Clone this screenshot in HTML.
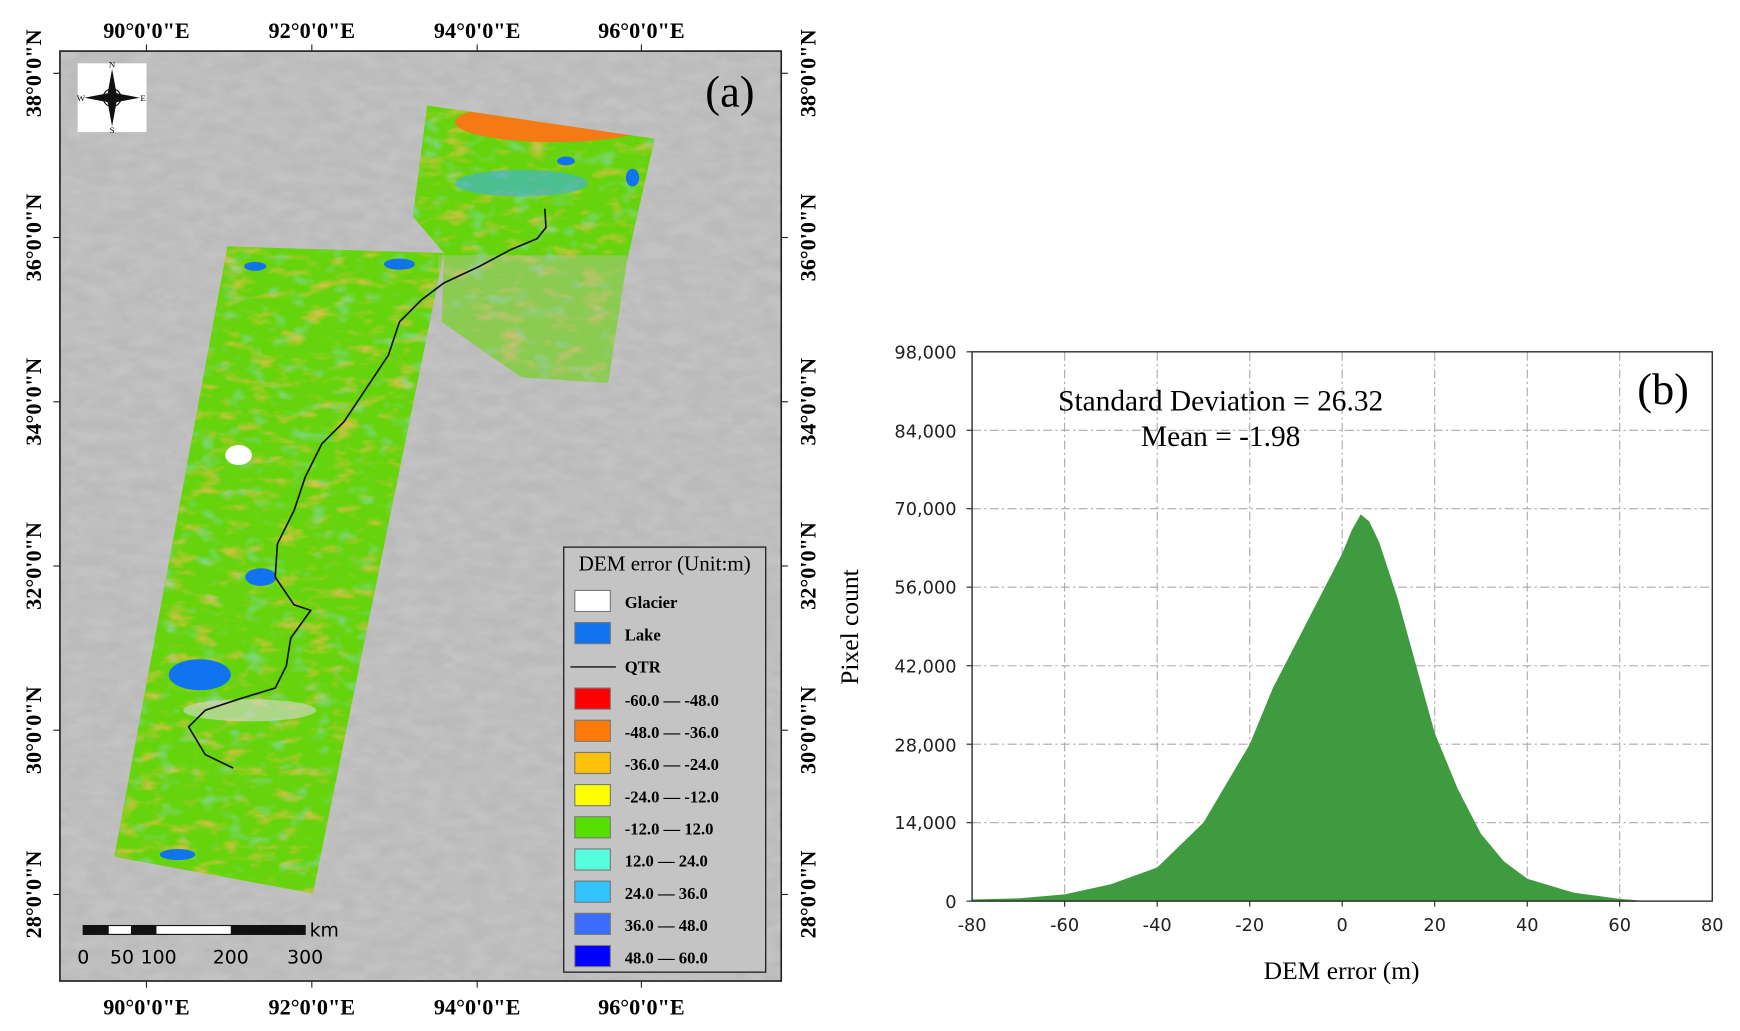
<!DOCTYPE html>
<html><head><meta charset="utf-8"><style>
html,body{margin:0;padding:0;background:#fff;}
svg{display:block;}
.t{font-family:"Liberation Serif",serif;}
.s{font-family:"DejaVu Sans","Liberation Sans",sans-serif;}
</style></head><body>
<svg width="1740" height="1031" viewBox="0 0 1568 929" xmlns="http://www.w3.org/2000/svg">
<defs>
<filter id="tex" x="0" y="0" width="100%" height="100%">
<feTurbulence type="fractalNoise" baseFrequency="0.05 0.09" numOctaves="3" seed="4"/>
<feColorMatrix type="matrix" values="0 0 0 0 0.55  0 0 0 0 0.55  0 0 0 0 0.55  1.2 1.2 1.2 0 -1.3"/>
</filter>
<filter id="gtex" x="0" y="0" width="100%" height="100%">
<feTurbulence type="fractalNoise" baseFrequency="0.04 0.1" numOctaves="3" seed="9"/>
<feColorMatrix type="matrix" values="0 0 0 0 0.95  0 0 0 0 0.5  0 0 0 0 0.1  2.6 0 0 0 -1.35"/>
</filter>
<filter id="btex" x="0" y="0" width="100%" height="100%">
<feTurbulence type="fractalNoise" baseFrequency="0.05 0.08" numOctaves="2" seed="21"/>
<feColorMatrix type="matrix" values="0 0 0 0 0.3  0 0 0 0 0.7  0 0 0 0 0.95  0 0 2.6 0 -1.45"/>
</filter>
<clipPath id="dc"><path d="M205,222 L400,228 L282,805 L103,772 Z M385,95 L590,125 L565,235 L548,345 L470,340 L398,290 L400,228 L372,195 Z"/></clipPath>
</defs>
<rect x="54" y="46" width="650" height="838" fill="#bababa" stroke="#222" stroke-width="1.5"/>
<rect x="55" y="47" width="648" height="836" filter="url(#tex)" opacity="0.9"/>
<g clip-path="url(#dc)">
<rect x="90" y="90" width="520" height="730" fill="#66d40c"/>
<rect x="90" y="90" width="520" height="730" filter="url(#gtex)" opacity="0.8"/>
<rect x="90" y="90" width="520" height="730" filter="url(#btex)" opacity="0.6"/>
<ellipse cx="500" cy="110" rx="90" ry="18" fill="#f57a15"/>
<ellipse cx="470" cy="165" rx="60" ry="12" fill="#3ab0e8" opacity="0.6"/>
<rect x="395" y="230" width="170" height="115" fill="#b8c0a8" opacity="0.45"/>
<ellipse cx="180" cy="608" rx="28" ry="14" fill="#1273f0"/>
<ellipse cx="235" cy="520" rx="14" ry="8" fill="#1273f0"/>
<ellipse cx="160" cy="770" rx="16" ry="5" fill="#1273f0"/>
<ellipse cx="215" cy="410" rx="12" ry="9" fill="#fff"/>
<ellipse cx="360" cy="238" rx="14" ry="5" fill="#1273f0"/>
<ellipse cx="230" cy="240" rx="10" ry="4" fill="#1273f0"/>
<ellipse cx="510" cy="145" rx="8" ry="4" fill="#1273f0"/>
<ellipse cx="570" cy="160" rx="6" ry="8" fill="#1273f0"/>
<ellipse cx="225" cy="640" rx="60" ry="10" fill="#d8d8d8" opacity="0.6"/>
</g>
<polyline points="491,188 492,205 484,215 460,225 432,240 400,255 380,270 360,290 350,320 330,350 310,380 290,400 275,430 265,460 250,490 248,520 265,545 280,550 262,575 258,600 248,620 215,630 185,640 170,655 185,680 210,692" fill="none" stroke="#111" stroke-width="1.5"/>
<rect x="70" y="57" width="62" height="62" fill="#fff"/>
<path d="M101,62 L105,84 L101,88 L97,84 Z M101,114 L97,92 L101,88 L105,92 Z M76,88 L97,84 L101,88 L97,92 Z M126,88 L105,92 L101,88 L105,84 Z" fill="#111"/>
<circle cx="101" cy="88" r="8" fill="none" stroke="#111"/>
<text class="t" x="101" y="61" font-size="8" text-anchor="middle">N</text>
<text class="t" x="101" y="120" font-size="8" text-anchor="middle">S</text>
<text class="t" x="73" y="91" font-size="8" text-anchor="middle">W</text>
<text class="t" x="129" y="91" font-size="8" text-anchor="middle">E</text>
<text class="t" x="680" y="96" font-size="40" text-anchor="end">(a)</text>
<rect x="508" y="493" width="182" height="383" fill="#c4c4c4" stroke="#222" stroke-width="1.2"/>
<text class="t" x="599" y="514" font-size="19" text-anchor="middle">DEM error (Unit:m)</text>
<g class="t" font-size="15" font-weight="bold">
<rect x="518" y="532" width="32" height="19" fill="#fff" stroke="#777"/><text x="563" y="548">Glacier</text>
<rect x="518" y="561" width="32" height="19" fill="#1273f0" stroke="#777"/><text x="563" y="577">Lake</text>
<line x1="514" y1="601" x2="555" y2="601" stroke="#111" stroke-width="1.2"/><text x="563" y="606">QTR</text>
<rect x="518" y="620" width="32" height="19" fill="#ff0000" stroke="#777"/><text x="563" y="636">-60.0 — -48.0</text>
<rect x="518" y="649" width="32" height="19" fill="#ff7a0a" stroke="#777"/><text x="563" y="665">-48.0 — -36.0</text>
<rect x="518" y="678" width="32" height="19" fill="#ffc20a" stroke="#777"/><text x="563" y="694">-36.0 — -24.0</text>
<rect x="518" y="707" width="32" height="19" fill="#ffff00" stroke="#777"/><text x="563" y="723">-24.0 — -12.0</text>
<rect x="518" y="736" width="32" height="19" fill="#55e000" stroke="#777"/><text x="563" y="752">-12.0 — 12.0</text>
<rect x="518" y="765" width="32" height="19" fill="#55ffdd" stroke="#777"/><text x="563" y="781">12.0 — 24.0</text>
<rect x="518" y="794" width="32" height="19" fill="#33c4ff" stroke="#777"/><text x="563" y="810">24.0 — 36.0</text>
<rect x="518" y="823" width="32" height="19" fill="#3a6cff" stroke="#777"/><text x="563" y="839">36.0 — 48.0</text>
<rect x="518" y="852" width="32" height="19" fill="#0000ff" stroke="#777"/><text x="563" y="868">48.0 — 60.0</text>
</g>
<rect x="75" y="834" width="200" height="8" fill="#fff" stroke="#111"/>
<rect x="75" y="834" width="23" height="8" fill="#111"/><rect x="118" y="834" width="23" height="8" fill="#111"/><rect x="208" y="834" width="67" height="8" fill="#111"/>
<g class="s" font-size="17"><text x="279" y="844">km</text><text x="75" y="868" text-anchor="middle">0</text><text x="110" y="868" text-anchor="middle">50</text><text x="143" y="868" text-anchor="middle">100</text><text x="208" y="868" text-anchor="middle">200</text><text x="275" y="868" text-anchor="middle">300</text></g>
<g stroke="#222" stroke-width="1">
<line x1="132" y1="40" x2="132" y2="46"/><line x1="281" y1="40" x2="281" y2="46"/><line x1="430" y1="40" x2="430" y2="46"/><line x1="578" y1="40" x2="578" y2="46"/>
<line x1="132" y1="884" x2="132" y2="890"/><line x1="281" y1="884" x2="281" y2="890"/><line x1="430" y1="884" x2="430" y2="890"/><line x1="578" y1="884" x2="578" y2="890"/>
<line x1="48" y1="66" x2="54" y2="66"/><line x1="48" y1="214" x2="54" y2="214"/><line x1="48" y1="362" x2="54" y2="362"/><line x1="48" y1="510" x2="54" y2="510"/><line x1="48" y1="658" x2="54" y2="658"/><line x1="48" y1="806" x2="54" y2="806"/>
<line x1="704" y1="66" x2="710" y2="66"/><line x1="704" y1="214" x2="710" y2="214"/><line x1="704" y1="362" x2="710" y2="362"/><line x1="704" y1="510" x2="710" y2="510"/><line x1="704" y1="658" x2="710" y2="658"/><line x1="704" y1="806" x2="710" y2="806"/>
</g>
<g class="t" font-size="20" font-weight="bold" text-anchor="middle">
<text x="132" y="34">90°0'0"E</text><text x="281" y="34">92°0'0"E</text><text x="430" y="34">94°0'0"E</text><text x="578" y="34">96°0'0"E</text>
<text x="132" y="914">90°0'0"E</text><text x="281" y="914">92°0'0"E</text><text x="430" y="914">94°0'0"E</text><text x="578" y="914">96°0'0"E</text>
<text transform="translate(37,66) rotate(-90)">38°0'0"N</text><text transform="translate(37,214) rotate(-90)">36°0'0"N</text><text transform="translate(37,362) rotate(-90)">34°0'0"N</text><text transform="translate(37,510) rotate(-90)">32°0'0"N</text><text transform="translate(37,658) rotate(-90)">30°0'0"N</text><text transform="translate(37,806) rotate(-90)">28°0'0"N</text>
<text transform="translate(735,66) rotate(-90)">38°0'0"N</text><text transform="translate(735,214) rotate(-90)">36°0'0"N</text><text transform="translate(735,362) rotate(-90)">34°0'0"N</text><text transform="translate(735,510) rotate(-90)">32°0'0"N</text><text transform="translate(735,658) rotate(-90)">30°0'0"N</text><text transform="translate(735,806) rotate(-90)">28°0'0"N</text>
</g>
<g stroke="#aaa" stroke-width="1" stroke-dasharray="8,3,2,3">
<line x1="959.4" y1="317" x2="959.4" y2="812"/><line x1="1042.8" y1="317" x2="1042.8" y2="812"/><line x1="1126.2" y1="317" x2="1126.2" y2="812"/><line x1="1209.5" y1="317" x2="1209.5" y2="812"/><line x1="1292.9" y1="317" x2="1292.9" y2="812"/><line x1="1376.3" y1="317" x2="1376.3" y2="812"/><line x1="1459.6" y1="317" x2="1459.6" y2="812"/>
<line x1="876" y1="387.7" x2="1543" y2="387.7"/><line x1="876" y1="458.4" x2="1543" y2="458.4"/><line x1="876" y1="529.1" x2="1543" y2="529.1"/><line x1="876" y1="599.9" x2="1543" y2="599.9"/><line x1="876" y1="670.6" x2="1543" y2="670.6"/><line x1="876" y1="741.3" x2="1543" y2="741.3"/>
</g>
<path d="M876,812 L876,810.5 L917.7,809.5 L959.4,805.9 L1001,796.8 L1042.8,781.7 L1084.5,741.3 L1126.2,670.6 L1147,620.1 L1167.9,579.7 L1188.7,539.2 L1209.5,498.8 L1218,478 L1226.2,463.5 L1234,470 L1242.9,488.7 L1259.5,539.2 L1276.2,599.9 L1292.9,660.5 L1313.7,711 L1334.6,751.4 L1355,776 L1376.3,791.8 L1418,804.4 L1459.6,810 L1484.6,812 Z" fill="#3f9b3f"/>
<rect x="876" y="317" width="667" height="495" fill="none" stroke="#222" stroke-width="1.2"/>
<g stroke="#222"><line x1="959.4" y1="812" x2="959.4" y2="817"/><line x1="1042.8" y1="812" x2="1042.8" y2="817"/><line x1="1126.2" y1="812" x2="1126.2" y2="817"/><line x1="1209.5" y1="812" x2="1209.5" y2="817"/><line x1="1292.9" y1="812" x2="1292.9" y2="817"/><line x1="1376.3" y1="812" x2="1376.3" y2="817"/><line x1="1459.6" y1="812" x2="1459.6" y2="817"/>
<line x1="871" y1="317" x2="876" y2="317"/><line x1="871" y1="387.7" x2="876" y2="387.7"/><line x1="871" y1="458.4" x2="876" y2="458.4"/><line x1="871" y1="529.1" x2="876" y2="529.1"/><line x1="871" y1="599.9" x2="876" y2="599.9"/><line x1="871" y1="670.6" x2="876" y2="670.6"/><line x1="871" y1="741.3" x2="876" y2="741.3"/><line x1="871" y1="812" x2="876" y2="812"/></g>
<g class="s" font-size="16" fill="#222" text-anchor="end">
<text x="862" y="323">98,000</text><text x="862" y="394">84,000</text><text x="862" y="464">70,000</text><text x="862" y="535">56,000</text><text x="862" y="606">42,000</text><text x="862" y="677">28,000</text><text x="862" y="747">14,000</text><text x="862" y="818">0</text>
</g>
<g class="s" font-size="16" fill="#222" text-anchor="middle">
<text x="876" y="839">-80</text><text x="959.4" y="839">-60</text><text x="1042.8" y="839">-40</text><text x="1126.2" y="839">-20</text><text x="1209.5" y="839">0</text><text x="1292.9" y="839">20</text><text x="1376.3" y="839">40</text><text x="1459.6" y="839">60</text><text x="1543" y="839">80</text>
</g>
<text class="t" x="1209" y="882" font-size="23" text-anchor="middle">DEM error (m)</text>
<text class="t" transform="translate(773,565) rotate(-90)" font-size="23" text-anchor="middle">Pixel count</text>
<text class="t" x="1100" y="370" font-size="26.5" text-anchor="middle">Standard Deviation = 26.32</text>
<text class="t" x="1100" y="402" font-size="26.5" text-anchor="middle">Mean = -1.98</text>
<text class="t" x="1522" y="364" font-size="40" text-anchor="end">(b)</text>
</svg>
</body></html>
